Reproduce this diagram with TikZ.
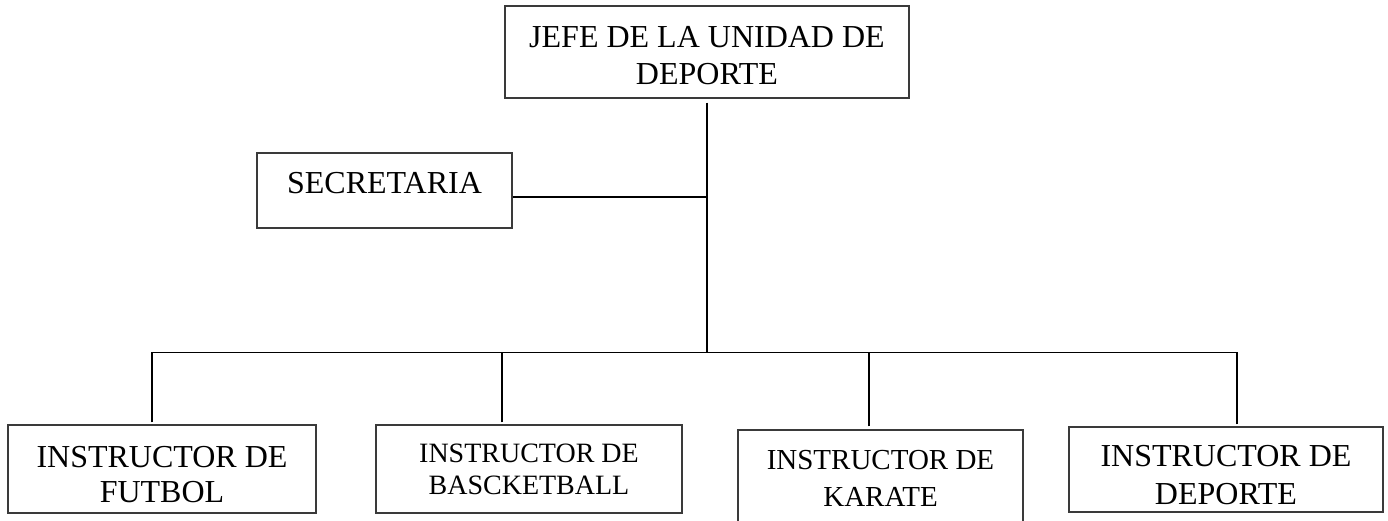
\documentclass[tikz,border=0pt]{standalone}
\usepackage{fontspec}
\setmainfont{Liberation Serif}
\usetikzlibrary{positioning,calc}
\definecolor{ink}{HTML}{000000}
\definecolor{frame}{HTML}{3A3A3A}
\newcommand{\padtop}[1]{\rule{0pt}{#1}}

\begin{document}
\begin{tikzpicture}[
    unit/.style={draw=frame, line width=0.6pt, fill=white, inner sep=2pt,
      align=center, text=ink, font=\fontsize{16}{18.5}\selectfont},
    small/.style={font=\fontsize{14}{16}\selectfont},
    link/.style={draw=ink, line width=0.9pt},
  ]
  \useasboundingbox (0,0) rectangle (694pt,-260pt);

  % ---------------------------------------------------------------- head
  \node[unit, minimum width=202pt, minimum height=46pt] (jefe)
        at (353.5pt,-26pt) {\padtop{13.8pt}JEFE DE LA UNIDAD DE\\DEPORTE};
  \node[unit, minimum width=127.5pt, minimum height=37.5pt,
        text height=11pt, text depth=8pt] (secretaria)
        at (192.25pt,-95.25pt) {SECRETARIA};

  % ------------------------------------------------------------ instructors
  \node[unit, minimum width=154pt, minimum height=44pt,
        font=\fontsize{16}{17.75}\selectfont] (futbol)
        at (81pt,-234.5pt) {\padtop{16pt}INSTRUCTOR DE\\FUTBOL};
  \node[unit, small, minimum width=153pt, minimum height=44pt] (basket)
        at (264.5pt,-234.5pt) {INSTRUCTOR DE\\BASCKETBALL};
  \node[unit, minimum width=142.5pt, minimum height=48.5pt,
        font=\fontsize{14.5}{18.5}\selectfont] (karate)
        at (440.25pt,-239.25pt) {INSTRUCTOR DE\\KARATE};
  \node[unit, minimum width=157pt, minimum height=42.5pt,
        font=\fontsize{16}{18.75}\selectfont] (deporte)
        at (613pt,-234.75pt) {\padtop{16pt}INSTRUCTOR DE\\DEPORTE};

  % ------------------------------------------------------------------ drops
  \draw[link] ([xshift=-5pt,yshift=1pt]futbol.north) -- ++(0,35pt) coordinate (tfutbol);
  \coordinate (tbasket) at ([xshift=-13.5pt]basket.north |- tfutbol);
  \draw[link] ([xshift=-13.5pt,yshift=1pt]basket.north) -- (tbasket);
  \coordinate (tkarate) at ([xshift=-5.75pt]karate.north |- tfutbol);
  \draw[link] ([xshift=-5.75pt,yshift=1.5pt]karate.north) -- (tkarate);
  \coordinate (tdeporte) at ([xshift=5.5pt]deporte.north |- tfutbol);
  \draw[link] ([xshift=5.5pt,yshift=1pt]deporte.north) -- (tdeporte);

  % ------------------------------------------------------------------ arrows
  \draw[link] ([xshift=-0.5pt]tfutbol) -- ([xshift=0.5pt]tdeporte);
  \draw[link] ([yshift=-2pt]jefe.south) -- (jefe.south |- tfutbol);
  \draw[link] ([yshift=-3.25pt]secretaria.east) -- ([yshift=-3.25pt]secretaria.east -| jefe.south);
\end{tikzpicture}
\end{document}
